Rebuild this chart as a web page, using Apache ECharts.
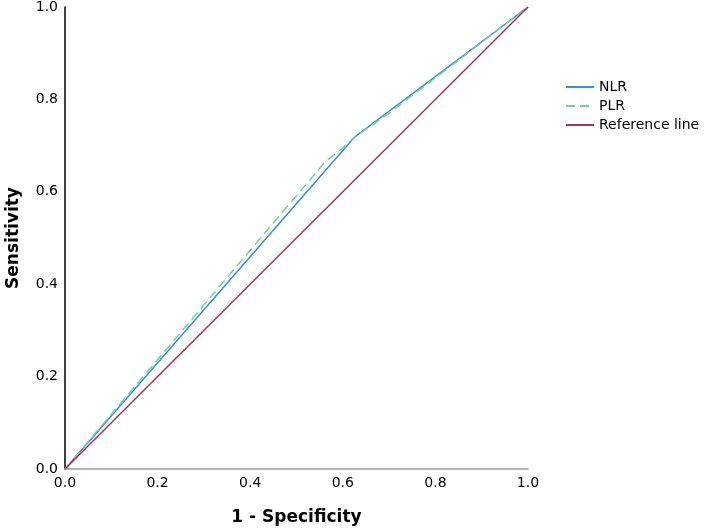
<!DOCTYPE html>
<html>
<head>
    <meta charset="utf-8">
    <title>ROC</title>
    <script src="https://cdn.jsdelivr.net/npm/echarts@6/dist/echarts.min.js"></script>
    <style>
        html, body { margin: 0; padding: 0; background: #fff; }
        #rocChart { width: 709px; height: 532px; }
    </style>
</head>
<body>
<div id="rocChart"></div>
<script type="text/javascript">
    // 曲线上的点 (1 - Specificity, Sensitivity)
    var nlrFpr = [0, 0.626, 1];
    var nlrTpr = [0, 0.719, 1];
    var plrFpr = [0, 0.562, 0.600, 0.626, 0.70, 1];
    var plrTpr = [0, 0.665, 0.695, 0.719, 0.77, 1];
    var refFpr = [0, 1];
    var refTpr = [0, 1];
    var seriesNames = ['NLR', 'PLR', 'Reference line'];

    function pairs(xs, ys) {
        var out = [];
        for (var i = 0; i < xs.length; i++) out.push([xs[i], ys[i]]);
        return out;
    }

    var font = 'DejaVu Sans';
    var myChart = echarts.init(document.getElementById('rocChart'));
    myChart.setOption({
        animation: false,
        textStyle: { fontFamily: font },
        grid: { left: 65, right: 181, top: 7, bottom: 63, outerBoundsMode: 'none' },
        legend: {
            orient: 'vertical',
            left: 565,
            top: 80,
            padding: 0,
            itemWidth: 28,
            itemHeight: 14,
            itemGap: 5,
            itemStyle: { opacity: 0 },   // 只显示线段，不要圆点
            textStyle: { fontSize: 14, color: '#000', fontFamily: font },
            data: seriesNames
        },
        xAxis: {
            type: 'value',
            min: 0, max: 1, interval: 0.2,
            name: '1 - Specificity',
            nameLocation: 'middle',
            nameGap: 40,
            nameTextStyle: { fontSize: 17, fontWeight: 'bold', color: '#000' },
            axisLine: { show: true, lineStyle: { color: '#999', width: 1.5 } },
            axisTick: { show: false },
            splitLine: { show: false },
            axisLabel: { fontSize: 14, color: '#000', margin: 7,
                formatter: function (v) { return v.toFixed(1); } }
        },
        yAxis: {
            type: 'value',
            min: 0, max: 1, interval: 0.2,
            name: 'Sensitivity',
            nameLocation: 'middle',
            nameGap: 43,
            nameTextStyle: { fontSize: 17, fontWeight: 'bold', color: '#000' },
            axisLine: { show: true, lineStyle: { color: '#000', width: 1.5 } },
            axisTick: { show: false },
            splitLine: { show: false },
            axisLabel: { fontSize: 14, color: '#000', margin: 7,
                formatter: function (v) { return v.toFixed(1); } }
        },
        series: [{
            name: seriesNames[0],
            type: 'line',
            symbol: 'none',
            itemStyle: { color: '#3b8fd4' },
            lineStyle: { color: '#3b8fd4', width: 1.5 },
            data: pairs(nlrFpr, nlrTpr)
        }, {
            name: seriesNames[1],
            type: 'line',
            symbol: 'none',
            itemStyle: { color: '#72d09a' },
            lineStyle: { color: '#72d09a', width: 1.5, type: [9, 5] },
            data: pairs(plrFpr, plrTpr)
        }, {
            name: seriesNames[2],
            type: 'line',
            symbol: 'none',
            itemStyle: { color: '#a3325f' },
            lineStyle: { color: '#a3325f', width: 1.5 },
            data: pairs(refFpr, refTpr)
        }]
    });
</script>
</body>
</html>
